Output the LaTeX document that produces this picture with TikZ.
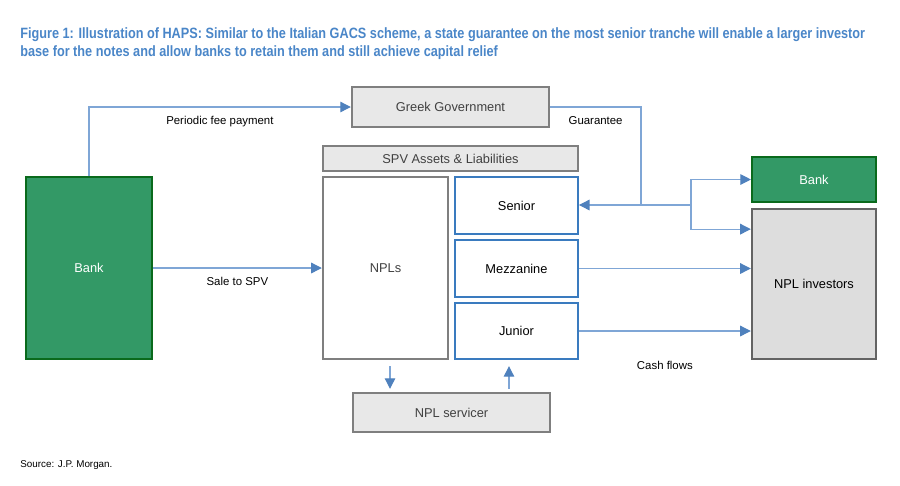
\documentclass[tikz,border=0pt]{standalone}
\usepackage{fontspec}
\setmainfont{Liberation Sans}
\newfontfamily\capfont[FakeStretch=0.85]{Liberation Sans}
\usepackage{xcolor}
\definecolor{hapsBlue}{HTML}{4A86C8}
\definecolor{hapsLine}{HTML}{7FA6D6}
\definecolor{hapsHead}{HTML}{4F81BD}
\definecolor{hapsTranche}{HTML}{3A7BBF}
\definecolor{hapsGreen}{HTML}{339966}
\definecolor{hapsGreenDark}{HTML}{0A6A1C}
\definecolor{hapsGray}{HTML}{E8E8E8}
\definecolor{hapsGrayDark}{HTML}{7F7F7F}
\definecolor{hapsInvest}{HTML}{DDDDDD}
\definecolor{hapsInvestDark}{HTML}{636363}
\usepackage{tikz}
\usetikzlibrary{
  arrows.meta,
  positioning,
  calc
}
\newcommand\lblfont{\fontsize{7.3}{9}\selectfont}
\newcommand\notefont{\fontsize{6.5}{8}\selectfont}
\tikzset{
  greenbox/.style={
    rectangle,draw=hapsGreenDark,fill=hapsGreen,
    line width=1.2pt,inner sep=0pt,
    text=white,font=\lblfont
  },
  graybox/.style={
    rectangle,draw=hapsGrayDark,fill=hapsGray,
    line width=1.4pt,inner sep=0pt,
    text=black!75,font=\lblfont
  },
  tranche/.style={
    rectangle,draw=hapsTranche,fill=white,
    line width=1.1pt,inner sep=0pt,
    minimum width=2.46cm,minimum height=1.13cm,
    text=black,font=\lblfont
  },
  flow/.style={-{Triangle[length=6pt,width=6pt,color=hapsHead]},
    draw=hapsLine,line width=0.65pt},
  link/.style={-,draw=hapsLine,line width=0.65pt},
  lbl/.style={font=\notefont,inner sep=2pt,text=black}
}

\begin{document}
\begin{tikzpicture}[
  x=0.02cm,y=-0.02cm,
  caption/.style={font=\capfont\bfseries\fontsize{8.5}{10}\selectfont,
                  text=hapsBlue,inner sep=0pt,anchor=base west},
  source/.style={font=\fontsize{5.6}{7}\selectfont,inner sep=0pt,anchor=base west}
]
\useasboundingbox (0,0) rectangle (900,485);

\node[caption] (title1) at (20,38) {Figure 1: Illustration of HAPS: Similar to the Italian GACS scheme, a state guarantee on the most senior tranche will enable a larger investor};
\node[caption] (title2) at (20,56) {base for the notes and allow banks to retain them and still achieve capital relief};

\node[greenbox,minimum width=2.52cm,minimum height=3.64cm] (bank) at (89,268) {Bank};
\node[graybox,minimum width=3.94cm,minimum height=0.8cm] (govt) at (450.5,107) {Greek Government};
\node[graybox,minimum width=5.1cm,minimum height=0.5cm] (spv) at (450.5,158.5) {SPV Assets \& Liabilities};
\node[graybox,fill=white,minimum width=2.5cm,minimum height=3.64cm] (npls) at (385.5,268) {NPLs};
\node[tranche] (senior) at (516.5,205.5) {Senior};
\node[tranche] (mezz)   at (516.5,268.5) {Mezzanine};
\node[tranche] (junior) at (516.5,331)   {Junior};
\node[graybox,minimum width=3.94cm,minimum height=0.78cm] (servicer) at (451.5,412.5) {NPL servicer};
\node[greenbox,minimum width=2.48cm,minimum height=0.9cm] (bankr) at (814,179.5) {Bank};
\node[graybox,draw=hapsInvestDark,fill=hapsInvest,text=black,
      minimum width=2.48cm,minimum height=3cm] (investors) at (814,284) {NPL investors};

\coordinate (gjoin) at (641,205);
\coordinate (split) at (691,205);

\draw[flow] (bank.north) |- node[lbl,pos=0.75,below=3pt]{Periodic fee payment} (govt.west);
\draw[link] (govt.east) -| node[lbl,pos=0.25,below=3pt]{Guarantee} (gjoin);
\draw[flow] (split) -- (split -| senior.east);
\draw[flow] (split) |- (bankr.west);
\draw[flow] (split) |- ($(investors.north west)!0.14!(investors.south west)$);
\draw[flow] (bank.east) -- node[lbl,below=3pt]{Sale to SPV} (bank.east -| npls.west);
\draw[flow] (mezz.east) -- (mezz.east -| investors.west);
\draw[flow] (junior.east) -- node[lbl,below=15pt]{Cash flows} (junior.east -| investors.west);
\draw[flow,shorten <=3.4pt,shorten >=1.7pt] ([xshift=-1.23cm]servicer.north |- npls.south) -- ([xshift=-1.23cm]servicer.north);
\draw[flow,shorten <=1.7pt,shorten >=3.4pt] ([xshift=1.15cm]servicer.north) -- ([xshift=1.15cm]servicer.north |- junior.south);

\node[source] (src) at (20,467) {Source: J.P. Morgan.};

\end{tikzpicture}
\end{document}
